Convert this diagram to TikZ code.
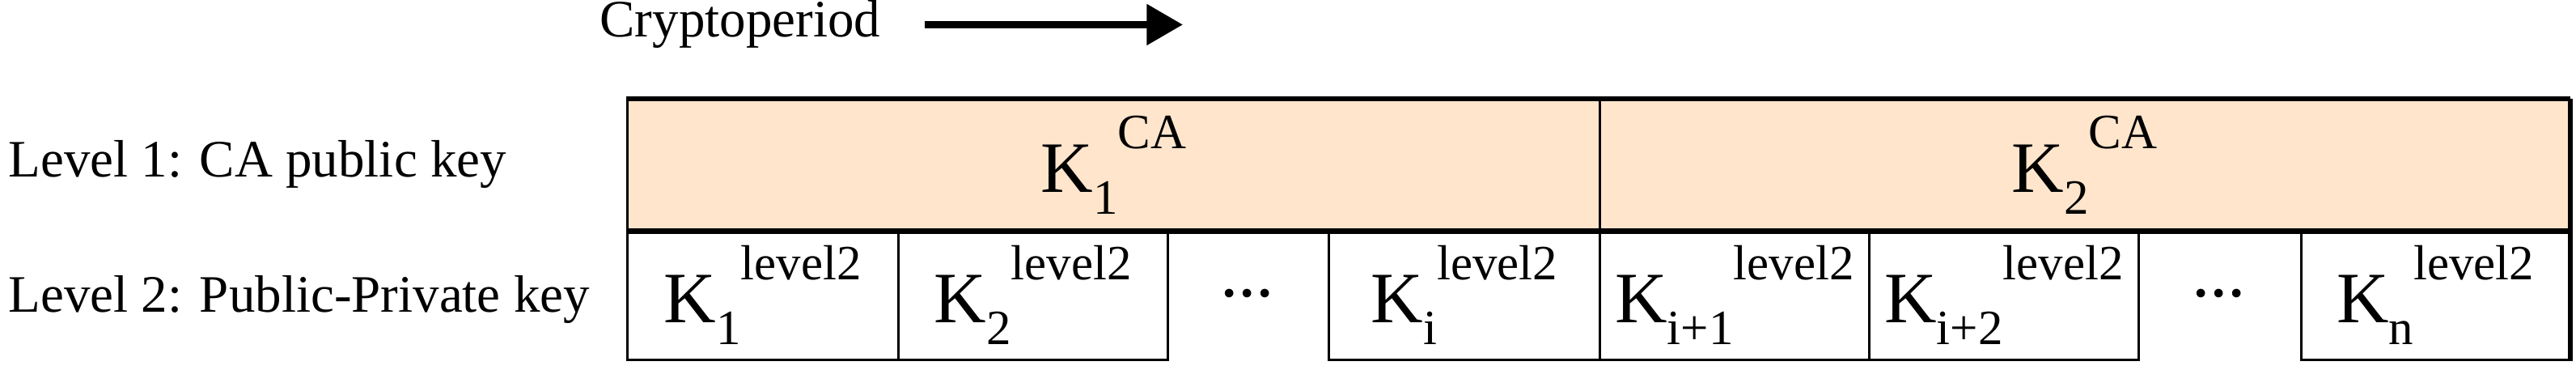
\documentclass[tikz,border=0pt]{standalone}
\usetikzlibrary{arrows.meta}
\usepackage{fontspec}
\setmainfont{Liberation Serif}
\newcommand{\kk}[2]{K\raisebox{-0.3em}{\fontsize{30}{30}\selectfont #1}\raisebox{0.6em}{\fontsize{30}{30}\selectfont #2}}
\tikzset{
  cell/.style={minimum height=79pt, inner sep=0pt, anchor=north west, font=\fontsize{44}{44}\selectfont},
  topcell/.style={cell, fill=orange!20!white, draw, line width=1.6pt},
  botcell/.style={cell, draw, line width=1.6pt},
  dotcell/.style={cell},
  lbl/.style={anchor=west, font=\fontsize{32}{32}\selectfont, inner sep=0pt}
}
\begin{document}
\begin{tikzpicture}[x=1pt,y=-1pt]
\useasboundingbox (0,0) rectangle (1568,225);
\node[lbl] (cp) at (365,15) {Cryptoperiod};
\coordinate (a1) at (563,15);
\coordinate (a2) at (720,15);
\draw[line width=4.5pt, -{Triangle[length=22pt,width=24pt]}] (a1) -- (a2);
\node[lbl] (l1) at (5,100) {Level 1: CA public key};
\node[lbl] (l2) at (5,182) {Level 2: Public-Private key};
\node[topcell, minimum width=592pt] (t1) at (381,60) {\kk{1}{CA}};
\node[topcell, minimum width=590pt] (t2) at (973,60) {\kk{2}{CA}};
\node[botcell, minimum width=165pt] (b1) at (381,139) {\kk{1}{level2}};
\node[botcell, minimum width=164pt] (b2) at (546,139) {\kk{2}{level2}};
\node[dotcell, minimum width=98pt] (b3) at (710,139) {...};
\node[botcell, minimum width=165pt] (b4) at (808,139) {\kk{i}{level2}};
\node[botcell, minimum width=164pt] (b5) at (973,139) {\kk{i+1}{level2}};
\node[botcell, minimum width=164pt] (b6) at (1137,139) {\kk{i+2}{level2}};
\node[dotcell, minimum width=99pt] (b7) at (1301,139) {...};
\node[botcell, minimum width=163pt] (b8) at (1400,139) {\kk{n}{level2}};
\draw[line width=3pt] (t1.north west) -- (t2.north east);
\draw[line width=3pt] (t1.south west) -- (t2.south east);
\draw[line width=3pt] (t2.north east) -- (b8.south east);
\end{tikzpicture}
\end{document}
